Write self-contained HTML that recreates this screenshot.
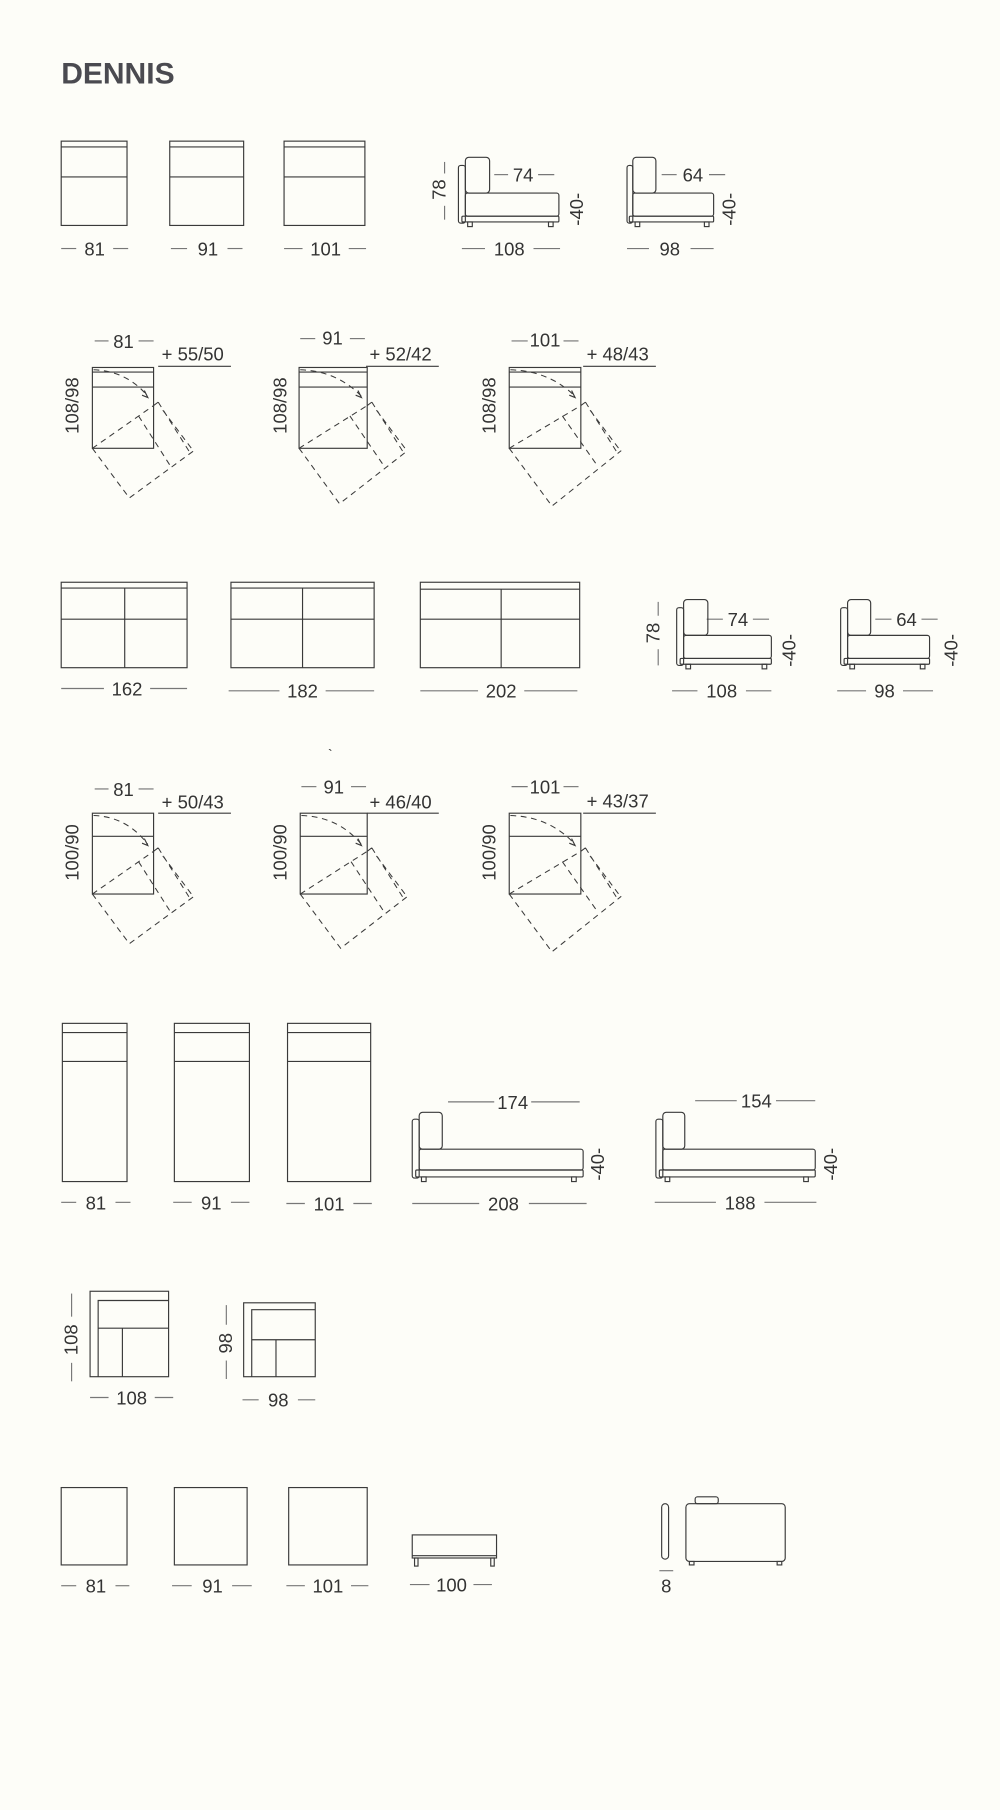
<!DOCTYPE html>
<html><head><meta charset="utf-8"><style>
html,body{margin:0;padding:0;background:#fdfdf8;}
svg{display:block}
text{font-family:"Liberation Sans",sans-serif;fill:#333;font-size:16px}
.v{font-size:16px}
.s{fill:none;stroke:#3a3a3a;stroke-width:1}
.d{fill:none;stroke:#3a3a3a;stroke-width:0.9;stroke-dasharray:5,4}
.g line,.g{stroke:#777;stroke-width:1}
</style></head><body>
<svg width="1000" height="1810" viewBox="0 0 866 1567" xmlns="http://www.w3.org/2000/svg">
<rect width="866" height="1567" fill="#fdfdf8"/>
<text x="53" y="72" style="font-weight:bold;font-size:26px;fill:#4a4a50">DENNIS</text>

<!-- dimension dash lines -->
<g class="g">
<line x1="53" y1="215" x2="66" y2="215"/><line x1="98" y1="215" x2="111" y2="215"/>
<line x1="148" y1="215" x2="162" y2="215"/><line x1="197" y1="215" x2="210" y2="215"/>
<line x1="246" y1="215" x2="262" y2="215"/><line x1="302" y1="215" x2="317" y2="215"/>
<line x1="400" y1="215" x2="420" y2="215"/><line x1="462" y1="215" x2="485" y2="215"/>
<line x1="543" y1="215" x2="562" y2="215"/><line x1="598" y1="215" x2="618" y2="215"/>
<line x1="428" y1="151" x2="440" y2="151"/><line x1="466" y1="151" x2="480" y2="151"/>
<line x1="573" y1="151" x2="586" y2="151"/><line x1="614" y1="151" x2="628" y2="151"/>

<line x1="82" y1="295" x2="94" y2="295"/><line x1="120" y1="295" x2="133" y2="295"/>
<line x1="260" y1="293" x2="273" y2="293"/><line x1="303" y1="293" x2="316" y2="293"/>
<line x1="443" y1="295" x2="457" y2="295"/><line x1="488" y1="295" x2="501" y2="295"/>

<line x1="53" y1="596" x2="90" y2="596"/><line x1="130" y1="596" x2="162" y2="596"/>
<line x1="198" y1="598" x2="242" y2="598"/><line x1="282" y1="598" x2="324" y2="598"/>
<line x1="364" y1="598" x2="414" y2="598"/><line x1="454" y1="598" x2="500" y2="598"/>
<line x1="612" y1="536" x2="626" y2="536"/><line x1="652" y1="536" x2="666" y2="536"/>
<line x1="758" y1="536" x2="772" y2="536"/><line x1="798" y1="536" x2="812" y2="536"/>
<line x1="582" y1="598" x2="604" y2="598"/><line x1="646" y1="598" x2="668" y2="598"/>
<line x1="725" y1="598" x2="750" y2="598"/><line x1="782" y1="598" x2="808" y2="598"/>

<line x1="82" y1="683" x2="94" y2="683"/><line x1="120" y1="683" x2="133" y2="683"/>
<line x1="261" y1="681" x2="274" y2="681"/><line x1="304" y1="681" x2="317" y2="681"/>
<line x1="443" y1="681" x2="457" y2="681"/><line x1="488" y1="681" x2="501" y2="681"/>

<line x1="53" y1="1041" x2="66" y2="1041"/><line x1="100" y1="1041" x2="113" y2="1041"/>
<line x1="150" y1="1041" x2="166" y2="1041"/><line x1="200" y1="1041" x2="216" y2="1041"/>
<line x1="248" y1="1042" x2="264" y2="1042"/><line x1="306" y1="1042" x2="322" y2="1042"/>
<line x1="388" y1="954" x2="428" y2="954"/><line x1="460" y1="954" x2="502" y2="954"/>
<line x1="357" y1="1042" x2="415" y2="1042"/><line x1="458" y1="1042" x2="508" y2="1042"/>
<line x1="602" y1="953" x2="638" y2="953"/><line x1="672" y1="953" x2="706" y2="953"/>
<line x1="567" y1="1041" x2="620" y2="1041"/><line x1="662" y1="1041" x2="707" y2="1041"/>

<line x1="78" y1="1210" x2="94" y2="1210"/><line x1="134" y1="1210" x2="150" y2="1210"/>
<line x1="210" y1="1212" x2="224" y2="1212"/><line x1="258" y1="1212" x2="273" y2="1212"/>

<line x1="53" y1="1373" x2="66" y2="1373"/><line x1="100" y1="1373" x2="112" y2="1373"/>
<line x1="149" y1="1373" x2="166" y2="1373"/><line x1="201" y1="1373" x2="218" y2="1373"/>
<line x1="248" y1="1373" x2="264" y2="1373"/><line x1="304" y1="1373" x2="319" y2="1373"/>
<line x1="355" y1="1372" x2="372" y2="1372"/><line x1="410" y1="1372" x2="426" y2="1372"/>
<line x1="571" y1="1360" x2="583" y2="1360"/>
<line x1="385" y1="140" x2="385" y2="150"/><line x1="385" y1="178" x2="385" y2="190"/>
<line x1="570" y1="521" x2="570" y2="533"/><line x1="570" y1="562" x2="570" y2="576"/>
<line x1="62" y1="1120" x2="62" y2="1140"/><line x1="62" y1="1180" x2="62" y2="1196"/>
<line x1="196" y1="1130" x2="196" y2="1147"/><line x1="196" y1="1178" x2="196" y2="1194"/>
</g>

<!-- Row 1 -->
<g class="s">
<rect x="53" y="122" width="57" height="73"/><line x1="53" y1="127" x2="110" y2="127"/><line x1="53" y1="153" x2="110" y2="153"/>
<rect x="147" y="122" width="64" height="73"/><line x1="147" y1="127" x2="211" y2="127"/><line x1="147" y1="153" x2="211" y2="153"/>
<rect x="246" y="122" width="70" height="73"/><line x1="246" y1="127" x2="316" y2="127"/><line x1="246" y1="153" x2="316" y2="153"/>
</g>
<text x="82" y="221" text-anchor="middle">81</text>
<text x="180" y="221" text-anchor="middle">91</text>
<text x="282" y="221" text-anchor="middle">101</text>

<g class="s">
<rect x="397" y="143" width="6" height="50" rx="2"/>
<rect x="403" y="136" width="21" height="31" rx="3"/>
<rect x="403" y="167" width="81" height="20" rx="2"/>
<rect x="400" y="187" width="84" height="5" rx="1"/>
<rect x="405" y="192" width="4" height="4"/><rect x="475" y="192" width="4" height="4"/>
</g>
<text class="v" transform="translate(386,164) rotate(-90)" text-anchor="middle">78</text>
<text x="453" y="157" text-anchor="middle">74</text>
<text class="v" transform="translate(505,181) rotate(-90)" text-anchor="middle">-40-</text>
<text x="441" y="221" text-anchor="middle">108</text>

<g class="s">
<rect x="543" y="143" width="5" height="50" rx="2"/>
<rect x="548" y="136" width="20" height="31" rx="3"/>
<rect x="548" y="167" width="70" height="20" rx="2"/>
<rect x="545" y="187" width="73" height="5" rx="1"/>
<rect x="550" y="192" width="4" height="4"/><rect x="610" y="192" width="4" height="4"/>
</g>
<text x="600" y="157" text-anchor="middle">64</text>
<text class="v" transform="translate(637,181) rotate(-90)" text-anchor="middle">-40-</text>
<text x="580" y="221" text-anchor="middle">98</text>

<!-- Row 2 -->
<g transform="translate(80,318)">
<g class="s"><rect x="0" y="0" width="53" height="70"/><line x1="0" y1="4" x2="53" y2="4"/><line x1="0" y1="17" x2="53" y2="17"/></g>
<g class="d"><path d="M1,2 Q30,3 48,25"/><path d="M0,70 L53,33 M57,30 L84,73 M61,37 L88,73 M0,70 L32,113 L88,72 M40,42 L68,86 M53,33 L57,30"/></g>
<path d="M45,20 L48,26 L43,24" class="s"/>
</g>
<text x="107" y="301" text-anchor="middle">81</text>
<text x="140" y="312">+ 55/50</text><line class="s" x1="137" y1="317" x2="200" y2="317"/>
<text class="v" transform="translate(68,351) rotate(-90)" text-anchor="middle">108/98</text>

<g transform="translate(259,318)">
<g class="s"><rect x="0" y="0" width="59" height="70"/><line x1="0" y1="4" x2="59" y2="4"/><line x1="0" y1="17" x2="59" y2="17"/></g>
<g class="d"><path d="M1,2 Q33,3 54,25"/><path d="M0,70 L59,33 M63,30 L90,73 M67,37 L94,73 M0,70 L35,118 L94,72 M44,42 L74,86 M59,33 L63,30"/></g>
<path d="M51,20 L54,26 L49,24" class="s"/>
</g>
<text x="288" y="298" text-anchor="middle">91</text>
<text x="320" y="312">+ 52/42</text><line class="s" x1="317" y1="317" x2="380" y2="317"/>
<text class="v" transform="translate(248,351) rotate(-90)" text-anchor="middle">108/98</text>

<g transform="translate(441,318)">
<g class="s"><rect x="0" y="0" width="62" height="70"/><line x1="0" y1="4" x2="62" y2="4"/><line x1="0" y1="17" x2="62" y2="17"/></g>
<g class="d"><path d="M1,2 Q35,3 57,25"/><path d="M0,70 L62,33 M66,30 L93,73 M70,37 L97,73 M0,70 L37,120 L97,72 M46,42 L77,86 M62,33 L66,30"/></g>
<path d="M54,20 L57,26 L52,24" class="s"/>
</g>
<text x="472" y="300" text-anchor="middle">101</text>
<text x="508" y="312">+ 48/43</text><line class="s" x1="505" y1="317" x2="568" y2="317"/>
<text class="v" transform="translate(429,351) rotate(-90)" text-anchor="middle">108/98</text>

<!-- Row 3 -->
<g class="s">
<rect x="53" y="504" width="109" height="74"/><line x1="53" y1="509" x2="162" y2="509"/><line x1="53" y1="536" x2="162" y2="536"/><line x1="108" y1="509" x2="108" y2="578"/>
<rect x="200" y="504" width="124" height="74"/><line x1="200" y1="509" x2="324" y2="509"/><line x1="200" y1="536" x2="324" y2="536"/><line x1="262" y1="509" x2="262" y2="578"/>
<rect x="364" y="504" width="138" height="74"/><line x1="364" y1="510" x2="502" y2="510"/><line x1="364" y1="536" x2="502" y2="536"/><line x1="434" y1="510" x2="434" y2="578"/>
</g>
<text x="110" y="602" text-anchor="middle">162</text>
<text x="262" y="604" text-anchor="middle">182</text>
<text x="434" y="604" text-anchor="middle">202</text>

<g class="s">
<rect x="586" y="526" width="6" height="50" rx="2"/>
<rect x="592" y="519" width="21" height="31" rx="3"/>
<rect x="592" y="550" width="76" height="20" rx="2"/>
<rect x="589" y="570" width="79" height="5" rx="1"/>
<rect x="594" y="575" width="4" height="4"/><rect x="660" y="575" width="4" height="4"/>
</g>
<text class="v" transform="translate(571,548) rotate(-90)" text-anchor="middle">78</text>
<text x="639" y="542" text-anchor="middle">74</text>
<text class="v" transform="translate(689,563) rotate(-90)" text-anchor="middle">-40-</text>
<text x="625" y="604" text-anchor="middle">108</text>

<g class="s">
<rect x="728" y="526" width="6" height="50" rx="2"/>
<rect x="734" y="519" width="20" height="31" rx="3"/>
<rect x="734" y="550" width="71" height="20" rx="2"/>
<rect x="731" y="570" width="74" height="5" rx="1"/>
<rect x="736" y="575" width="4" height="4"/><rect x="797" y="575" width="4" height="4"/>
</g>
<text x="785" y="542" text-anchor="middle">64</text>
<text class="v" transform="translate(829,563) rotate(-90)" text-anchor="middle">-40-</text>
<text x="766" y="604" text-anchor="middle">98</text>
<text x="284" y="657" style="font-size:12px">`</text>

<!-- Row 4 -->
<g transform="translate(80,704)">
<g class="s"><rect x="0" y="0" width="53" height="70"/><line x1="0" y1="20" x2="53" y2="20"/></g>
<g class="d"><path d="M1,2 Q30,3 48,27"/><path d="M0,70 L53,33 M57,30 L84,73 M61,37 L88,73 M0,70 L32,113 L88,72 M40,42 L68,86 M53,33 L57,30"/></g>
<path d="M45,22 L48,28 L43,26" class="s"/>
</g>
<text x="107" y="689" text-anchor="middle">81</text>
<text x="140" y="700">+ 50/43</text><line class="s" x1="137" y1="704" x2="200" y2="704"/>
<text class="v" transform="translate(68,738) rotate(-90)" text-anchor="middle">100/90</text>

<g transform="translate(260,704)">
<g class="s"><rect x="0" y="0" width="58" height="70"/><line x1="0" y1="20" x2="58" y2="20"/></g>
<g class="d"><path d="M1,2 Q33,3 53,27"/><path d="M0,70 L58,33 M62,30 L89,73 M66,37 L93,73 M0,70 L35,117 L93,72 M44,42 L73,86 M58,33 L62,30"/></g>
<path d="M50,22 L53,28 L48,26" class="s"/>
</g>
<text x="289" y="687" text-anchor="middle">91</text>
<text x="320" y="700">+ 46/40</text><line class="s" x1="318" y1="704" x2="380" y2="704"/>
<text class="v" transform="translate(248,738) rotate(-90)" text-anchor="middle">100/90</text>

<g transform="translate(441,704)">
<g class="s"><rect x="0" y="0" width="62" height="70"/><line x1="0" y1="20" x2="62" y2="20"/></g>
<g class="d"><path d="M1,2 Q35,3 57,27"/><path d="M0,70 L62,33 M66,30 L93,73 M70,37 L97,73 M0,70 L37,120 L97,72 M46,42 L77,86 M62,33 L66,30"/></g>
<path d="M54,22 L57,28 L52,26" class="s"/>
</g>
<text x="472" y="687" text-anchor="middle">101</text>
<text x="508" y="699">+ 43/37</text><line class="s" x1="505" y1="704" x2="568" y2="704"/>
<text class="v" transform="translate(429,738) rotate(-90)" text-anchor="middle">100/90</text>

<!-- Row 5 -->
<g class="s">
<rect x="54" y="886" width="56" height="137"/><line x1="54" y1="894" x2="110" y2="894"/><line x1="54" y1="919" x2="110" y2="919"/>
<rect x="151" y="886" width="65" height="137"/><line x1="151" y1="894" x2="216" y2="894"/><line x1="151" y1="919" x2="216" y2="919"/>
<rect x="249" y="886" width="72" height="137"/><line x1="249" y1="894" x2="321" y2="894"/><line x1="249" y1="919" x2="321" y2="919"/>
</g>
<text x="83" y="1047" text-anchor="middle">81</text>
<text x="183" y="1047" text-anchor="middle">91</text>
<text x="285" y="1048" text-anchor="middle">101</text>

<g class="s">
<rect x="357" y="969" width="6" height="51" rx="2"/>
<rect x="363" y="963" width="20" height="32" rx="3"/>
<rect x="363" y="995" width="142" height="18" rx="2"/>
<rect x="360" y="1013" width="145" height="6" rx="1"/>
<rect x="365" y="1019" width="4" height="4"/><rect x="495" y="1019" width="4" height="4"/>
</g>
<text x="444" y="960" text-anchor="middle">174</text>
<text class="v" transform="translate(523,1008) rotate(-90)" text-anchor="middle">-40-</text>
<text x="436" y="1048" text-anchor="middle">208</text>

<g class="s">
<rect x="568" y="969" width="6" height="51" rx="2"/>
<rect x="574" y="963" width="19" height="32" rx="3"/>
<rect x="574" y="995" width="132" height="18" rx="2"/>
<rect x="571" y="1013" width="135" height="6" rx="1"/>
<rect x="576" y="1019" width="4" height="4"/><rect x="696" y="1019" width="4" height="4"/>
</g>
<text x="655" y="959" text-anchor="middle">154</text>
<text class="v" transform="translate(725,1008) rotate(-90)" text-anchor="middle">-40-</text>
<text x="641" y="1047" text-anchor="middle">188</text>

<!-- Row 6 -->
<g class="s">
<rect x="78" y="1118" width="68" height="74"/>
<path d="M85,1192 L85,1126 L146,1126"/><line x1="85" y1="1150" x2="146" y2="1150"/><line x1="106" y1="1150" x2="106" y2="1192"/>
<rect x="211" y="1128" width="62" height="64"/>
<path d="M218,1192 L218,1134 L273,1134"/><line x1="218" y1="1160" x2="273" y2="1160"/><line x1="239" y1="1160" x2="239" y2="1192"/>
</g>
<text class="v" transform="translate(67,1160) rotate(-90)" text-anchor="middle">108</text>
<text class="v" transform="translate(201,1163) rotate(-90)" text-anchor="middle">98</text>
<text x="114" y="1216" text-anchor="middle">108</text>
<text x="241" y="1218" text-anchor="middle">98</text>

<!-- Row 7 -->
<g class="s">
<rect x="53" y="1288" width="57" height="67"/>
<rect x="151" y="1288" width="63" height="67"/>
<rect x="250" y="1288" width="68" height="67"/>
<rect x="357" y="1329" width="73" height="20"/>
<line x1="357" y1="1347" x2="430" y2="1347"/>
<rect x="359" y="1349" width="3" height="7"/><rect x="425" y="1349" width="3" height="7"/>
<rect x="573" y="1302" width="6" height="48" rx="3"/>
<rect x="594" y="1302" width="86" height="50" rx="3"/>
<rect x="602" y="1296" width="20" height="6" rx="2"/>
<rect x="597" y="1352" width="4" height="3"/><rect x="673" y="1352" width="4" height="3"/>
</g>
<text x="83" y="1379" text-anchor="middle">81</text>
<text x="184" y="1379" text-anchor="middle">91</text>
<text x="284" y="1379" text-anchor="middle">101</text>
<text x="391" y="1378" text-anchor="middle">100</text>
<text x="577" y="1379" text-anchor="middle">8</text>
</svg>
</body></html>
